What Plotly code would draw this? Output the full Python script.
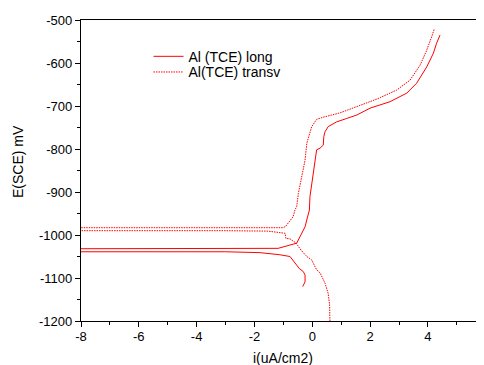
import plotly.graph_objects as go

# Data: x = i (uA/cm2, log-scale values), y = E(SCE) mV
long_x = [-0.33, -0.29, -0.25, -0.25, -0.31, -0.45, -0.66, -0.77, -1.12, -1.81, -3.0, -8.6,
          -8.6, -3.0, -1.3, -1.18, -0.54, -0.25, -0.19, -0.10, -0.08, 0.03, 0.09, 0.15, 0.27,
          0.38, 0.40, 0.44, 0.55, 0.84, 1.19, 1.54, 2.00, 2.69, 3.27, 3.61, 3.96, 4.19, 4.30, 4.42]
long_y = [-1120, -1116, -1109, -1093, -1085, -1078, -1058, -1050, -1046, -1041, -1039, -1039,
          -1032, -1032, -1032, -1031, -1019, -981, -965, -942, -911, -864, -833, -802, -798,
          -791, -771, -760, -748, -737, -729, -721, -705, -690, -670, -647, -609, -577, -554, -535]

transv_x = [0.61, 0.60, 0.55, 0.44, 0.27, 0.15, -0.02, -0.19, -0.39, -0.56, -0.77, -0.91,
            -0.94, -1.12, -1.53, -3.0, -8.6,
            -8.6, -3.0, -1.0, -0.91, -0.66, -0.60, -0.54, -0.48, -0.37, -0.25, -0.19, -0.02,
            0.15, 0.38, 0.96, 1.54, 2.23, 2.92, 3.38, 3.73, 3.96, 4.13, 4.22]
transv_y = [-1200, -1163, -1136, -1112, -1088, -1081, -1058, -1050, -1035, -1019, -1009, -1008,
            -996, -995, -991, -990, -990,
            -983, -983, -983, -979, -957, -942, -934, -903, -864, -826, -787, -748,
            -731, -726, -716, -702, -684, -663, -640, -605, -570, -539, -521]

series_names = ["Al (TCE) long", "Al(TCE) transv"]

x_tickvals = [-8, -6, -4, -2, 0, 2, 4]
x_ticktext = ["-8", "-6", "-4", "-2", "0", "2", "4"]
y_tickvals = [-500, -600, -700, -800, -900, -1000, -1100, -1200]
y_ticktext = ["-500", "-600", "-700", "-800", "-900", "-1000", "-1100", "-1200"]

FONT = "Arial, Liberation Sans, sans-serif"
RED = "#ff0000"

fig = go.Figure()
fig.add_trace(go.Scatter(x=long_x, y=long_y, mode="lines", name=series_names[0],
                         line=dict(color=RED, width=1), legend="legend"))
fig.add_trace(go.Scatter(x=transv_x, y=transv_y, mode="lines", name=series_names[1],
                         line=dict(color=RED, width=1, dash="1.5px,1px"), legend="legend2"))

leg_common = dict(xanchor="left", yanchor="middle", bgcolor="rgba(0,0,0,0)",
                  font=dict(size=14))

fig.update_layout(
    width=476, height=357,
    margin=dict(l=73, r=0, t=12, b=44, autoexpand=False),
    paper_bgcolor="white", plot_bgcolor="white",
    font=dict(family=FONT, size=13, color="black"),
    showlegend=True,
    legend=dict(x=0.1675, y=0.878, **leg_common),
    legend2=dict(x=0.1675, y=0.826, **leg_common),
    xaxis=dict(range=[-8, 5.94], tickvals=x_tickvals, ticktext=x_ticktext,
               ticks="outside", ticklen=5, tickwidth=1, tickcolor="black",
               minor=dict(dtick=1, ticks="outside", ticklen=3, tickcolor="black"),
               showline=True, linecolor="black", linewidth=1.3, mirror=True,
               showgrid=False, zeroline=False, tickfont=dict(size=13),
               ticklabelstandoff=-2),
    yaxis=dict(range=[-1200, -500], tickvals=y_tickvals, ticktext=y_ticktext,
               ticks="outside", ticklen=5, tickwidth=1, tickcolor="black",
               minor=dict(dtick=50, ticks="outside", ticklen=3, tickcolor="black"),
               showline=True, linecolor="black", linewidth=1.3, mirror=False,
               showgrid=False, zeroline=False, tickfont=dict(size=13)),
    annotations=[
        dict(text="E(SCE) mV", xref="paper", yref="paper", x=-0.155, y=0.53,
             textangle=-90, showarrow=False, xanchor="center", yanchor="middle",
             font=dict(size=14)),
        dict(text="i(uA/cm2)", xref="paper", yref="paper", x=0.5, y=-0.123,
             showarrow=False, xanchor="center", yanchor="middle", font=dict(size=14)),
        dict(text="6", xref="paper", yref="paper", x=1.0045, y=-0.056,
             showarrow=False, xanchor="center", yanchor="middle", font=dict(size=13)),
    ],
)

fig.write_html("out.html")
